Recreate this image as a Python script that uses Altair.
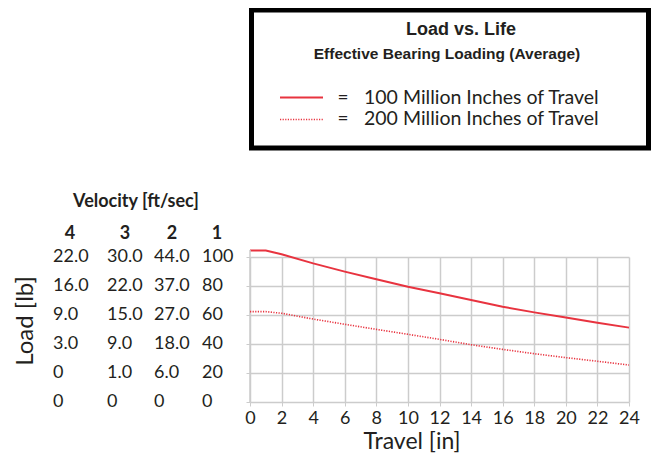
import altair as alt
import pandas as pd

# ---- data ----
travel = [0, 1, 2, 4, 6, 8, 10, 12, 14, 16, 18, 20, 22, 24]
load_100m = [104.5, 104.5, 101.9, 95.6, 89.9, 84.6, 79.5, 75.0, 70.3, 65.7, 61.8, 58.2, 54.7, 51.3]
load_200m = [62.3, 62.3, 61.2, 57.2, 53.6, 50.1, 46.7, 43.2, 39.5, 36.3, 33.3, 30.6, 28.1, 25.5]

x_ticks = [0, 2, 4, 6, 8, 10, 12, 14, 16, 18, 20, 22, 24]
load_ticks = [100, 80, 60, 40, 20, 0]
vel_headers = ["4", "3", "2", "1"]
vel_col4 = ["22.0", "16.0", "9.0", "3.0", "0", "0"]
vel_col3 = ["30.0", "22.0", "15.0", "9.0", "1.0", "0"]
vel_col2 = ["44.0", "37.0", "27.0", "18.0", "6.0", "0"]
vel_col1 = ["100", "80", "60", "40", "20", "0"]

title_text = "Load vs. Life"
subtitle_text = "Effective Bearing Loading (Average)"
legend_labels = ["100 Million Inches of Travel", "200 Million Inches of Travel"]

RED = "#e8333f"
TXT = "#231f20"
GRID = "#cccccc"
FONT = "Lato"

W, H = 379, 145

df100 = pd.DataFrame({"travel": travel, "load": load_100m})
df200 = pd.DataFrame({"travel": travel, "load": load_200m})

xscale = alt.Scale(domain=[0, 24], nice=False)
yscale = alt.Scale(domain=[0, 100], nice=False)

xaxis = alt.Axis(values=x_ticks, title=None, grid=True, gridColor=GRID,
                 gridWidth=1.5, domain=False, tickColor=GRID, tickSize=4,
                 labelOverlap=False, labelFlush=False,
                 labelFont=FONT, labelFontSize=18, labelColor=TXT, labelPadding=3)
yaxis = alt.Axis(values=load_ticks, title=None, labels=False, grid=True,
                 gridColor=GRID, gridWidth=1.5, domain=False,
                 tickColor=GRID, tickSize=4)
base_x = alt.X("travel:Q", scale=xscale, axis=xaxis)
base_y = alt.Y("load:Q", scale=yscale, axis=yaxis)

line100 = alt.Chart(df100).mark_line(color=RED, strokeWidth=2, clip=False).encode(
    x=base_x, y=base_y)
line200 = alt.Chart(df200).mark_line(color=RED, strokeWidth=1.6, strokeDash=[1.2, 1.4],
                                     clip=False).encode(x=base_x, y=base_y)

# y-axis line at x=0 extending up to the curve start
yline = alt.Chart(pd.DataFrame({"a": [0]})).mark_rule(color=GRID, strokeWidth=1.5).encode(
    x=alt.value(0), y=alt.value(-7), y2=alt.value(H))

# velocity table
cols = [vel_col4, vel_col3, vel_col2, vel_col1]
col_x = [-197, -143, -96, -48]
head_x = [-180, -125, -78, -33]
layers = []
for vals, cx in zip(cols, col_x):
    d = pd.DataFrame({"load": load_ticks, "t": vals})
    layers.append(alt.Chart(d).mark_text(align="left", baseline="middle", font=FONT,
                                         fontSize=18, color=TXT).encode(
        x=alt.value(cx), y=alt.Y("load:Q", scale=yscale, axis=yaxis), text="t:N"))
for h, hx in zip(vel_headers, head_x):
    layers.append(alt.Chart(pd.DataFrame({"t": [h]})).mark_text(
        align="center", baseline="alphabetic", font=FONT, fontSize=18, fontWeight="bold",
        color=TXT).encode(x=alt.value(hx), y=alt.value(-18), text="t:N"))
layers.append(alt.Chart(pd.DataFrame({"t": ["Velocity [ft/sec]"]})).mark_text(
    align="center", baseline="alphabetic", font=FONT, fontSize=18, fontWeight="bold",
    color=TXT).encode(x=alt.value(-114), y=alt.value(-50), text="t:N"))
layers.append(alt.Chart(pd.DataFrame({"t": ["Load [lb]"]})).mark_text(
    align="center", baseline="middle", font=FONT, fontSize=24, angle=270,
    color=TXT).encode(x=alt.value(-224), y=alt.value(64), text="t:N"))
layers.append(alt.Chart(pd.DataFrame({"t": ["Travel [in]"]})).mark_text(
    align="center", baseline="alphabetic", font=FONT, fontSize=23,
    color=TXT).encode(x=alt.value(162), y=alt.value(192), text="t:N"))

# legend box
box = alt.Chart(pd.DataFrame({"a": [0]})).mark_rect(fillOpacity=0, stroke="black",
                                                   strokeWidth=5).encode(
    x=alt.value(1.5), x2=alt.value(398.5), y=alt.value(-247), y2=alt.value(-109))
t1 = alt.Chart(pd.DataFrame({"t": [title_text]})).mark_text(
    align="center", baseline="alphabetic", font="Liberation Sans", fontSize=18,
    fontWeight="bold", color=TXT).encode(x=alt.value(211), y=alt.value(-222), text="t:N")
t2 = alt.Chart(pd.DataFrame({"t": [subtitle_text]})).mark_text(
    align="center", baseline="alphabetic", font="Liberation Sans", fontSize=15.5,
    fontWeight="bold", color=TXT).encode(x=alt.value(197), y=alt.value(-198.5), text="t:N")
leg1 = alt.Chart(pd.DataFrame({"a": [0]})).mark_rule(color=RED, strokeWidth=2.2).encode(
    x=alt.value(30), x2=alt.value(73), y=alt.value(-159.5))
leg2 = alt.Chart(pd.DataFrame({"a": [0]})).mark_rule(color=RED, strokeWidth=1.6,
                                                    strokeDash=[1.2, 1.4]).encode(
    x=alt.value(30), x2=alt.value(73), y=alt.value(-137.5))
leg_texts = []
for lbl, yb in zip(legend_labels, [-153.5, -131.7]):
    leg_texts.append(alt.Chart(pd.DataFrame({"t": ["="]})).mark_text(
        align="center", baseline="alphabetic", font=FONT, fontSize=19, color=TXT).encode(
        x=alt.value(93), y=alt.value(yb), text="t:N"))
    leg_texts.append(alt.Chart(pd.DataFrame({"t": [lbl]})).mark_text(
        align="left", baseline="alphabetic", font=FONT, fontSize=19.5, color=TXT).encode(
        x=alt.value(114), y=alt.value(yb), text="t:N"))

chart = alt.layer(line100, yline, line200, *layers, box, t1, t2, leg1, leg2, *leg_texts).properties(
    width=W, height=H,
    autosize=alt.AutoSizeParams(type="none"),
    padding={"left": 242, "top": 249, "right": 22, "bottom": 52},
).configure_view(stroke=None)

chart.save("out.html", embed_options={"renderer": "svg", "actions": False})
